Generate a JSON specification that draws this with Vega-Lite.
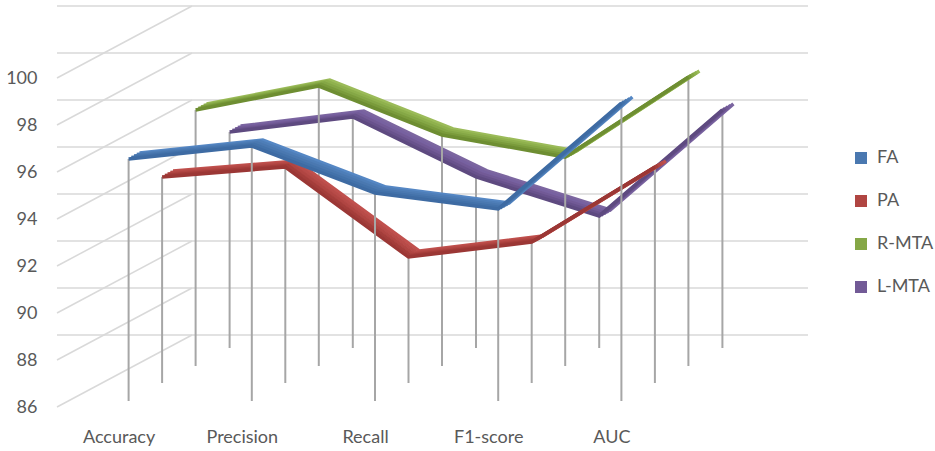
{
  "$schema": "https://vega.github.io/schema/vega-lite/v6.json",
  "width": 616,
  "height": 329,
  "autosize": "none",
  "padding": {"left": 57, "top": 78, "right": 262, "bottom": 44},
  "background": "white",
  "config": {
    "view": {"stroke": null},
    "font": "Lato",
    "axis": {
      "domain": false,
      "ticks": false,
      "grid": false,
      "labelFont": "Lato",
      "labelFontSize": 18,
      "labelColor": "#595959"
    },
    "axisY": {"labelPadding": 20},
    "axisX": {"labelPadding": 21, "labelAngle": 0}
  },
  "datasets": {
    "scores": [
      {"series": "FA", "metric": "Accuracy", "value": 96.3},
      {"series": "FA", "metric": "Precision", "value": 96.85},
      {"series": "FA", "metric": "Recall", "value": 94.85},
      {"series": "FA", "metric": "F1-score", "value": 94.17},
      {"series": "FA", "metric": "AUC", "value": 98.68},
      {"series": "PA", "metric": "Accuracy", "value": 94.77},
      {"series": "PA", "metric": "Precision", "value": 95.19},
      {"series": "PA", "metric": "Recall", "value": 91.36},
      {"series": "PA", "metric": "F1-score", "value": 92.0},
      {"series": "PA", "metric": "AUC", "value": 95.19},
      {"series": "R-MTA", "metric": "Accuracy", "value": 96.89},
      {"series": "R-MTA", "metric": "Precision", "value": 97.91},
      {"series": "R-MTA", "metric": "Recall", "value": 95.83},
      {"series": "R-MTA", "metric": "F1-score", "value": 94.89},
      {"series": "R-MTA", "metric": "AUC", "value": 98.3},
      {"series": "L-MTA", "metric": "Accuracy", "value": 95.19},
      {"series": "L-MTA", "metric": "Precision", "value": 95.83},
      {"series": "L-MTA", "metric": "Recall", "value": 93.28},
      {"series": "L-MTA", "metric": "F1-score", "value": 91.62},
      {"series": "L-MTA", "metric": "AUC", "value": 96.13}
    ],
    "ticks": [
      {"v": 86}, {"v": 88}, {"v": 90}, {"v": 92},
      {"v": 94}, {"v": 96}, {"v": 98}, {"v": 100}
    ]
  },
  "layer": [
    {
      "data": {"name": "ticks"},
      "mark": {"type": "rule", "color": "#D9D9D9", "strokeWidth": 1.5, "xOffset": 135, "x2Offset": 135, "yOffset": -72},
      "encoding": {
        "y": {"field": "v", "type": "quantitative", "scale": {"domain": [86, 100], "nice": false, "zero": false},
              "axis": {"title": null, "values": [86, 88, 90, 92, 94, 96, 98, 100]}}
      }
    },
    {
      "data": {"name": "ticks"},
      "mark": {"type": "rule", "color": "#D9D9D9", "strokeWidth": 1.5, "x2Offset": 135, "y2Offset": -72},
      "encoding": {
        "x": {"value": 0},
        "x2": {"value": 0},
        "y": {"field": "v", "type": "quantitative", "axis": {"title": null, "values": [86, 88, 90, 92, 94, 96, 98, 100]}},
        "y2": {"field": "v"}
      }
    },
    {
      "data": {"name": "scores"},
      "encoding": {
        "x": {"field": "metric", "type": "nominal",
              "sort": ["Accuracy", "Precision", "Recall", "F1-score", "AUC"],
              "scale": {"type": "point", "padding": 0.5},
              "axis": {"title": null}},
        "y": {"field": "value", "type": "quantitative", "axis": {"title": null, "values": [86, 88, 90, 92, 94, 96, 98, 100]}}
      },
      "layer": [
        {
          "transform": [{"filter": "datum.series === 'L-MTA'"}],
          "layer": [
            {"mark": {"type": "rule", "color": "#A6A6A6", "strokeWidth": 2, "xOffset": 111, "yOffset": -59, "y2Offset": -59},
             "encoding": {"y2": {"datum": 86}}},
            {"mark": {"type": "line", "color": "#7C66A0", "strokeWidth": 3.5, "strokeCap": "butt", "xOffset": 122, "yOffset": -65}},
            {"mark": {"type": "line", "color": "#7761A0", "strokeWidth": 3.5, "strokeCap": "butt", "xOffset": 119.25, "yOffset": -63.5}},
            {"mark": {"type": "line", "strokeWidth": 3.5, "strokeCap": "butt", "xOffset": 116.5, "yOffset": -62},
             "encoding": {"color": {"field": "series", "type": "nominal",
               "scale": {"domain": ["FA", "PA", "R-MTA", "L-MTA"], "range": ["#4A78B0", "#B04542", "#85A746", "#725A96"]},
               "legend": {"orient": "none", "legendX": 795, "legendY": 71, "title": null, "padding": 0,
                 "symbolType": "square", "symbolSize": 144, "symbolStrokeWidth": 0,
                 "labelFont": "Lato", "labelFontSize": 18, "labelColor": "#595959", "labelOffset": 7, "rowPadding": 25,
                 "encode": {"symbols": {"update": {
                   "fill": {"scale": "color", "field": "value"},
                   "fillOpacity": {"value": 1},
                   "strokeWidth": {"value": 0}}}}}}}},
            {"mark": {"type": "line", "color": "#68528C", "strokeWidth": 3.5, "strokeCap": "butt", "xOffset": 113.75, "yOffset": -60.5}},
            {"mark": {"type": "line", "color": "#5E4A80", "strokeWidth": 3.5, "strokeCap": "butt", "xOffset": 111, "yOffset": -59}}
          ]
        },
        {
          "transform": [{"filter": "datum.series === 'R-MTA'"}],
          "layer": [
            {"mark": {"type": "rule", "color": "#A6A6A6", "strokeWidth": 2, "xOffset": 77, "yOffset": -41, "y2Offset": -41},
             "encoding": {"y2": {"datum": 86}}},
            {"mark": {"type": "line", "color": "#9BBB59", "strokeWidth": 3.5, "strokeCap": "butt", "xOffset": 88, "yOffset": -47}},
            {"mark": {"type": "line", "color": "#8FB14D", "strokeWidth": 3.5, "strokeCap": "butt", "xOffset": 85.25, "yOffset": -45.5}},
            {"mark": {"type": "line", "strokeWidth": 3.5, "strokeCap": "butt", "xOffset": 82.5, "yOffset": -44},
             "encoding": {"color": {"field": "series", "type": "nominal"}}},
            {"mark": {"type": "line", "color": "#7A9B3B", "strokeWidth": 3.5, "strokeCap": "butt", "xOffset": 79.75, "yOffset": -42.5}},
            {"mark": {"type": "line", "color": "#6E8E32", "strokeWidth": 3.5, "strokeCap": "butt", "xOffset": 77, "yOffset": -41}}
          ]
        },
        {
          "transform": [{"filter": "datum.series === 'PA'"}],
          "layer": [
            {"mark": {"type": "rule", "color": "#A6A6A6", "strokeWidth": 2, "xOffset": 43.5, "yOffset": -24, "y2Offset": -24},
             "encoding": {"y2": {"datum": 86}}},
            {"mark": {"type": "line", "color": "#C0504D", "strokeWidth": 3.5, "strokeCap": "butt", "xOffset": 54.5, "yOffset": -30}},
            {"mark": {"type": "line", "color": "#B84B48", "strokeWidth": 3.5, "strokeCap": "butt", "xOffset": 51.75, "yOffset": -28.5}},
            {"mark": {"type": "line", "strokeWidth": 3.5, "strokeCap": "butt", "xOffset": 49, "yOffset": -27},
             "encoding": {"color": {"field": "series", "type": "nominal"}}},
            {"mark": {"type": "line", "color": "#A43D3A", "strokeWidth": 3.5, "strokeCap": "butt", "xOffset": 46.25, "yOffset": -25.5}},
            {"mark": {"type": "line", "color": "#9B3735", "strokeWidth": 3.5, "strokeCap": "butt", "xOffset": 43.5, "yOffset": -24}}
          ]
        },
        {
          "transform": [{"filter": "datum.series === 'FA'"}],
          "layer": [
            {"mark": {"type": "rule", "color": "#A6A6A6", "strokeWidth": 2, "xOffset": 10, "yOffset": -6, "y2Offset": -6},
             "encoding": {"y2": {"datum": 86}}},
            {"mark": {"type": "line", "color": "#5587C4", "strokeWidth": 3.5, "strokeCap": "butt", "xOffset": 21, "yOffset": -12}},
            {"mark": {"type": "line", "color": "#4E7EB8", "strokeWidth": 3.5, "strokeCap": "butt", "xOffset": 18.25, "yOffset": -10.5}},
            {"mark": {"type": "line", "strokeWidth": 3.5, "strokeCap": "butt", "xOffset": 15.5, "yOffset": -9},
             "encoding": {"color": {"field": "series", "type": "nominal"}}},
            {"mark": {"type": "line", "color": "#4372AA", "strokeWidth": 3.5, "strokeCap": "butt", "xOffset": 12.75, "yOffset": -7.5}},
            {"mark": {"type": "line", "color": "#3E6BA3", "strokeWidth": 3.5, "strokeCap": "butt", "xOffset": 10, "yOffset": -6}}
          ]
        }
      ]
    }
  ]
}
